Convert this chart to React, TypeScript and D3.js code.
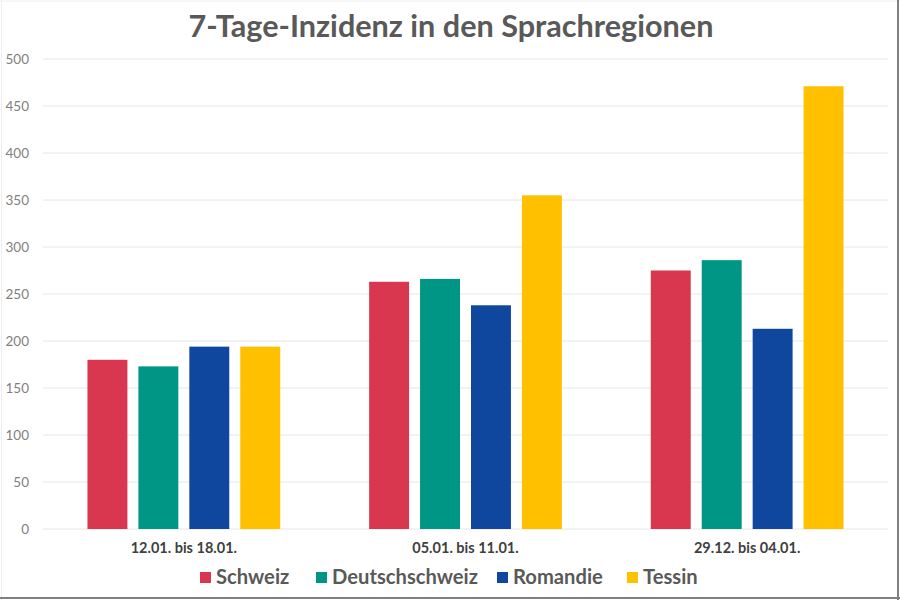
import React from "react";
import * as d3 from "d3";

const categories = ["12.01. bis 18.01.", "05.01. bis 11.01.", "29.12. bis 04.01."];
const seriesNames = ["Schweiz", "Deutschschweiz", "Romandie", "Tessin"];
const schweiz = [180, 263, 275];
const deutschschweiz = [173, 266, 286];
const romandie = [194, 238, 213];
const tessin = [194, 355, 471];
const seriesValues = [schweiz, deutschschweiz, romandie, tessin];
const colors = ["#D9374F", "#009685", "#0F479E", "#FFC000"];
const yTicks = [0, 50, 100, 150, 200, 250, 300, 350, 400, 450, 500];

const W = 900;
const H = 600;
const left = 43;
const right = 888;
const top = 59;
const bottom = 529;

export default function App() {
  const x0 = d3.scaleBand<string>().domain(categories).range([left, right]).paddingInner(0).paddingOuter(0);
  const x1 = d3
    .scaleBand<string>()
    .domain(seriesNames)
    .range([0, x0.bandwidth()])
    .paddingInner(11 / 51)
    .paddingOuter(0.873);
  const y = d3.scaleLinear().domain([0, 500]).range([bottom, top]);

  const legendItems = [
    { name: "Schweiz", x: 200 },
    { name: "Deutschschweiz", x: 316 },
    { name: "Romandie", x: 497 },
    { name: "Tessin", x: 627 },
  ];

  return (
    <svg
      width={W}
      height={H}
      style={{ position: "absolute", left: 0, top: 0, background: "#fff" }}
      fontFamily="Lato, 'Open Sans', sans-serif"
    >
      <rect x={0} y={0} width={W} height={H} fill="#fff" />
      <line x1={1.5} y1={0} x2={1.5} y2={H} stroke="#eeeeee" />
      <line x1={0} y1={1} x2={W} y2={1} stroke="#eeeeee" />
      <line x1={898} y1={0} x2={898} y2={H} stroke="#808080" strokeWidth={2} />
      <line x1={0} y1={598} x2={W} y2={598} stroke="#808080" strokeWidth={2} />

      <text x={451} y={37} textAnchor="middle" fontSize={30.6} fontWeight={700} fill="#595959">
        7-Tage-Inzidenz in den Sprachregionen
      </text>

      {yTicks.map((t) => (
        <g key={t}>
          <line x1={left} x2={right} y1={y(t)} y2={y(t)} stroke="#e6e6e6" strokeWidth={1} />
          <text x={29} y={y(t) + 4.5} textAnchor="end" fontSize={13.5} fill="#7f7f7f">
            {t}
          </text>
        </g>
      ))}

      {categories.map((c, ci) => (
        <g key={c} transform={`translate(${x0(c)},0)`}>
          {seriesNames.map((s, si) => (
            <rect
              key={s}
              x={x1(s)}
              y={y(seriesValues[si][ci])}
              width={x1.bandwidth()}
              height={y(0) - y(seriesValues[si][ci])}
              fill={colors[si]}
            />
          ))}
          <text
            x={x0.bandwidth() / 2}
            y={553}
            textAnchor="middle"
            fontSize={14.5}
            fontWeight={700}
            fill="#404040"
          >
            {c}
          </text>
        </g>
      ))}

      {legendItems.map((l, i) => (
        <g key={l.name}>
          <rect x={l.x} y={572} width={11} height={11} fill={colors[i]} />
          <text x={l.x + 16} y={584} fontSize={20.2} fontWeight={700} fill="#595959">
            {l.name}
          </text>
        </g>
      ))}
    </svg>
  );
}
